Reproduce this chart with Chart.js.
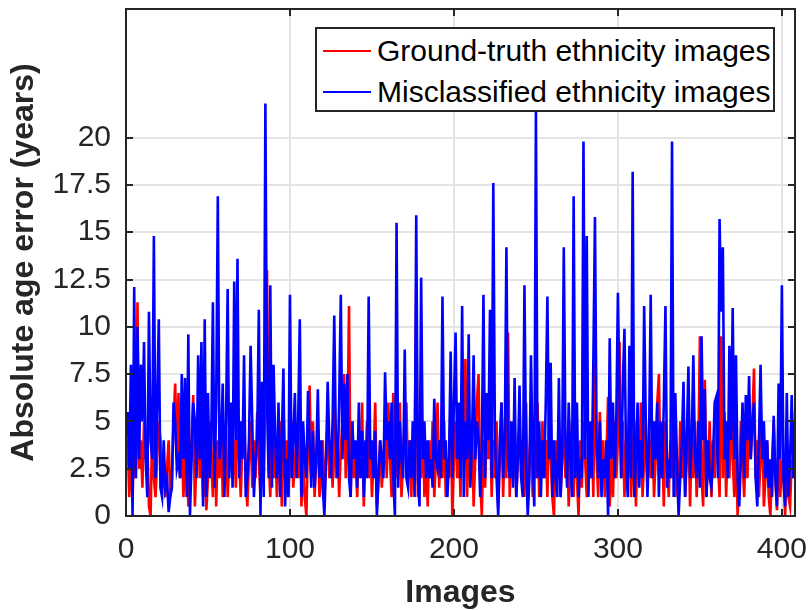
<!DOCTYPE html>
<html>
<head>
<meta charset="utf-8">
<script src="https://cdn.jsdelivr.net/npm/chart.js@4.4.1/dist/chart.umd.min.js"></script>
<style>
    html, body { margin: 0; padding: 0; background: #ffffff; }
    #wrap { position: relative; width: 809px; height: 610px; }
    #legendBox {
        position: absolute; left: 315px; top: 27px; width: 460px; height: 85px;
        box-sizing: border-box; border: 2px solid #262626; background: #ffffff;
        font-family: 'Liberation Sans', Arial, sans-serif; font-size: 30px; color: #000000;
    }
    .row { position: absolute; left: 6px; height: 34px; display: flex; align-items: center; white-space: nowrap; }
    .swatch { width: 48px; height: 0; border-top: 2px solid; margin-right: 6px; }
</style>
</head>
<body>
<div id="wrap">
    <canvas id="ageChart" width="809" height="610"></canvas>
    <div id="legendBox">
        <div class="row" style="top: 5px;"><span class="swatch" style="border-color:#ff0000"></span><span id="lab0"></span></div>
        <div class="row" style="top: 46px;"><span class="swatch" style="border-color:#0000ff"></span><span id="lab1"></span></div>
    </div>
</div>
<script>
const seriesNames = ['Ground-truth ethnicity images', 'Misclassified ethnicity images'];
const xTicks = [0, 100, 200, 300, 400];
const yTicks = [0, 2.5, 5, 7.5, 10, 12.5, 15, 17.5, 20];

// absolute age error per image, ground-truth ethnicity
const groundTruth = [
    4, 1, 3.5, 0.8, 5, 2, 11.3, 2.5, 4, 1.5, 5, 3, 4, 0.5, 0, 4.8, 2, 1, 3, 5,
    4, 1.5, 3, 1, 2.5, 4, 1, 2, 5, 7, 3, 6.5, 2, 4, 1, 3, 5, 0.5, 2, 4,
    6.4, 0.5, 3, 5, 2, 4, 1, 3, 0.3, 2, 5, 3, 1, 6, 0.5, 4, 2, 5, 1, 3,
    4.5, 1, 3, 5, 2, 4, 1.5, 6, 3, 1, 4, 6, 2, 0.5, 3, 5, 1.5, 4, 2, 5.5,
    3, 1, 4, 2, 6, 13, 3, 1, 5, 2, 4, 1, 3, 5, 0.5, 6, 2, 4, 1, 3,
    5, 1.5, 3, 4, 2, 5, 0.5, 3, 1, 0, 4, 6.9, 2, 5, 1, 3, 4.5, 1, 2, 4,
    1, 3, 5, 2, 4, 1.5, 6, 2, 4, 1, 3.5, 5, 7.5, 2, 4, 11.1, 1, 5, 2, 3,
    1, 4, 2, 6, 0.5, 3, 5, 2, 4, 1, 3, 6, 0.5, 2, 4, 1.5, 3, 5, 2, 6,
    3, 1, 6.5, 4, 2, 5, 6, 1, 3, 5.5, 6, 2, 4, 1, 5, 3, 12, 1, 4, 2,
    5, 1, 3, 0.5, 4, 2, 5, 1, 3, 6, 1.5, 4, 2, 5, 1, 3, 2, 6, 0, 3,
    5, 2, 4, 1, 6, 3, 8.3, 1, 4, 2, 5, 0.5, 3, 6, 7.5, 2, 0, 4, 1.5, 5,
    3, 6, 1, 4, 2, 5, 0.5, 3, 6, 1, 4, 2, 9.7, 1, 4, 2, 5, 1, 3, 5,
    2, 4, 1, 6, 0.5, 3, 5, 1, 4, 2, 6, 1, 3, 5, 2, 4, 1, 6, 3, 1,
    0, 4, 2, 5, 1, 3, 5.5, 2, 4, 0.5, 3, 5, 1, 6, 2, 0, 4, 1.5, 5, 3,
    1, 4, 2, 5, 1, 8, 3, 1, 5.5, 2, 4, 1, 3, 6.3, 0.5, 3, 1, 5, 2, 4,
    9.2, 2, 5, 1, 4, 2, 6, 1, 3, 5, 0.5, 4, 2, 6, 1, 3, 5, 1.5, 4, 2,
    5, 1, 3, 6, 7.5, 2, 4, 0.5, 5, 3, 1, 4, 2, 6, 1, 3, 0.5, 5, 2, 4,
    1, 3, 5, 0.5, 4, 2, 5, 1, 3, 9.5, 2, 0.5, 7.2, 1, 3, 5, 1, 4, 2, 5,
    3, 1, 9.5, 2, 5.5, 1, 4, 2, 6, 3, 1, 4, 0, 2, 5, 3, 1, 4, 2, 6,
    3, 5, 7.8, 2, 4, 1, 3, 5, 0.5, 2, 4, 1, 0, 3, 5, 2, 0.3, 4, 1, 3,
    2, 0, 4, 1, 0.5, 3, 2, 5.5
];

// absolute age error per image, misclassified ethnicity
const misclassified = [
    5.5, 2.5, 8, 0, 12.1, 2, 10, 3, 8, 5, 9.2, 3, 1, 10.8, 4, 3, 14.8, 2, 6, 10.4,
    1.5, 1, 4, 1.5, 2, 0.2, 1, 1.5, 6, 5, 2.5, 3, 2, 7.5, 3, 7.3, 1, 9.6, 0, 3,
    6, 5, 2, 8.5, 3, 9.2, 0.5, 10.4, 1, 6.5, 2, 4, 11.3, 1.5, 6, 16.9, 3, 4, 7, 1,
    5, 12, 2, 6, 1.5, 12.4, 4, 13.6, 2, 5, 3, 8.5, 1, 2, 4, 9, 5, 1, 3, 4,
    10.9, 0, 7.1, 1, 21.8, 6, 2, 12.2, 1.5, 8, 4, 2, 6, 1, 4, 7.8, 0.5, 3, 1, 11.7,
    2, 4, 6.5, 2, 5, 10.4, 1, 5, 3, 2, 6.6, 4, 1.5, 4.5, 1.5, 3, 6.7, 2, 4, 1.5,
    0, 3, 7.1, 4, 2, 5, 10.6, 4, 2, 6, 11.7, 3, 7, 4, 7.5, 2, 1, 5, 3, 4,
    1.5, 6, 2, 4.5, 1, 4, 2, 11.6, 3, 4, 2, 4.5, 0, 2, 4, 3, 2, 7.6, 4, 5,
    3, 6, 2, 0, 15.5, 1.5, 5, 3, 2, 8.8, 2, 1.5, 4, 2, 5, 1, 15.9, 2, 0.5, 12.6,
    3, 5, 2, 4, 2, 3, 1.5, 6.2, 3, 2.5, 4, 2, 11.6, 3, 4, 1, 3, 8.7, 2, 6,
    9.7, 3, 6, 2, 11.1, 1, 5, 3, 9.6, 1.5, 4, 8.5, 3, 5, 4, 1, 3.5, 11.7, 2, 6.5,
    4, 10.9, 2, 17.6, 4, 2, 0, 4, 6, 2, 4, 14.2, 3, 2, 5, 1.5, 7.3, 1, 3, 6.9,
    2, 1, 12.2, 3, 0, 2, 8.5, 3, 0.5, 21.4, 2, 5, 1, 4, 2, 6, 11.6, 3, 8.1, 1,
    4, 2, 1, 7.3, 1, 3, 14.2, 4, 1.5, 6, 3, 1, 16.9, 2, 6, 1, 3, 2, 19.8, 3,
    14.8, 1, 5, 2, 8, 15.8, 4, 2, 5, 1, 3, 2, 4, 0, 9.4, 3, 6, 2, 5, 11.8,
    6, 2, 7, 9.9, 3, 1, 9, 2, 18.2, 1, 3, 6, 1.5, 4, 2, 11.1, 5, 1, 4, 11.7,
    2, 5, 3, 6, 1, 5, 2, 6, 11.1, 1.5, 3, 2, 19.8, 1, 6.5, 3, 0, 2, 4, 7.1,
    1, 4, 7.9, 2, 4, 8.5, 3, 2, 5, 1.5, 9.5, 4, 6.7, 1, 4, 2, 1.5, 3, 6, 6.3,
    2, 15.7, 10.8, 14.2, 3, 5, 2, 9, 4, 11, 3, 8.5, 2, 0.5, 3, 6, 2, 6.4, 4, 7.4,
    3, 5, 6, 2, 0.5, 4, 8, 3, 5, 2, 4, 1.5, 3, 1, 5.3, 2, 0.5, 7, 3, 12.2,
    2, 0.5, 6.5, 1, 3, 6.4, 2, 5
];

const axisColor = '#262626';
const gridColor = '#e4e4e4';
const fontFamily = "'Liberation Sans', Arial, Helvetica, sans-serif";

document.getElementById('lab0').textContent = seriesNames[0];
document.getElementById('lab1').textContent = seriesNames[1];

function toPoints(values) {
    return values.map((v, i) => ({ x: i + 1, y: v }));
}

// box round the axes with small inward tick marks, as in MATLAB
const boxPlugin = {
    id: 'boxPlugin',
    afterDatasetsDraw(chart) {
        const { ctx, chartArea, scales } = chart;
        const { left, right, top, bottom } = chartArea;
        const len = 7;
        ctx.save();
        ctx.strokeStyle = axisColor;
        ctx.lineWidth = 2;
        ctx.beginPath();
        yTicks.forEach(v => {
            const py = Math.round(scales.y.getPixelForValue(v));
            ctx.moveTo(left, py); ctx.lineTo(left + len, py);
            ctx.moveTo(right, py); ctx.lineTo(right - len, py);
        });
        xTicks.forEach(v => {
            const px = Math.round(scales.x.getPixelForValue(v));
            ctx.moveTo(px, bottom); ctx.lineTo(px, bottom - len);
            ctx.moveTo(px, top); ctx.lineTo(px, top + len);
        });
        ctx.stroke();
        ctx.strokeRect(left, top, right - left, bottom - top);
        ctx.restore();
    },
};

new Chart(document.getElementById('ageChart'), {
    type: 'line',
    data: {
        datasets: [
            {
                label: seriesNames[0],
                data: toPoints(groundTruth),
                borderColor: '#ff0000',
                borderWidth: 2.6,
                pointRadius: 0,
                tension: 0,
                order: 1,
            },
            {
                label: seriesNames[1],
                data: toPoints(misclassified),
                borderColor: '#0000ff',
                borderWidth: 2.6,
                pointRadius: 0,
                tension: 0,
                order: 0,
            },
        ],
    },
    options: {
        responsive: false,
        animation: false,
        layout: { padding: { top: 9, right: 14, left: 0, bottom: 0 } },
        scales: {
            x: {
                type: 'linear',
                min: 0,
                max: 408,
                afterBuildTicks: axis => { axis.ticks = xTicks.map(v => ({ value: v })); },
                afterFit: axis => { axis.height = 94; axis.paddingRight = 0; axis.paddingLeft = 0; },
                ticks: {
                    color: axisColor,
                    font: { family: fontFamily, size: 30 },
                    padding: 16,
                    maxRotation: 0,
                    callback: v => String(v),
                },
                grid: { color: gridColor, lineWidth: 2, drawTicks: false },
                border: { display: false },
                title: {
                    display: true,
                    text: 'Images',
                    color: axisColor,
                    font: { family: fontFamily, size: 32, weight: 'bold', lineHeight: 1 },
                    padding: { top: 0, bottom: 1 },
                },
            },
            y: {
                type: 'linear',
                min: 0,
                max: 26.8,
                afterBuildTicks: axis => { axis.ticks = yTicks.map(v => ({ value: v })); },
                afterFit: axis => { axis.width = 126; axis.paddingTop = 0; axis.paddingBottom = 0; },
                ticks: {
                    color: axisColor,
                    font: { family: fontFamily, size: 30 },
                    padding: 15,
                    callback: v => String(v),
                },
                grid: { color: gridColor, lineWidth: 2, drawTicks: false },
                border: { display: false },
                title: {
                    display: true,
                    text: 'Absolute age error (years)',
                    color: axisColor,
                    font: { family: fontFamily, size: 32, weight: 'bold', lineHeight: 1 },
                    padding: { top: 8, bottom: 0 },
                },
            },
        },
        plugins: {
            legend: { display: false },
            tooltip: { enabled: false },
        },
    },
    plugins: [boxPlugin],
});
</script>
</body>
</html>
